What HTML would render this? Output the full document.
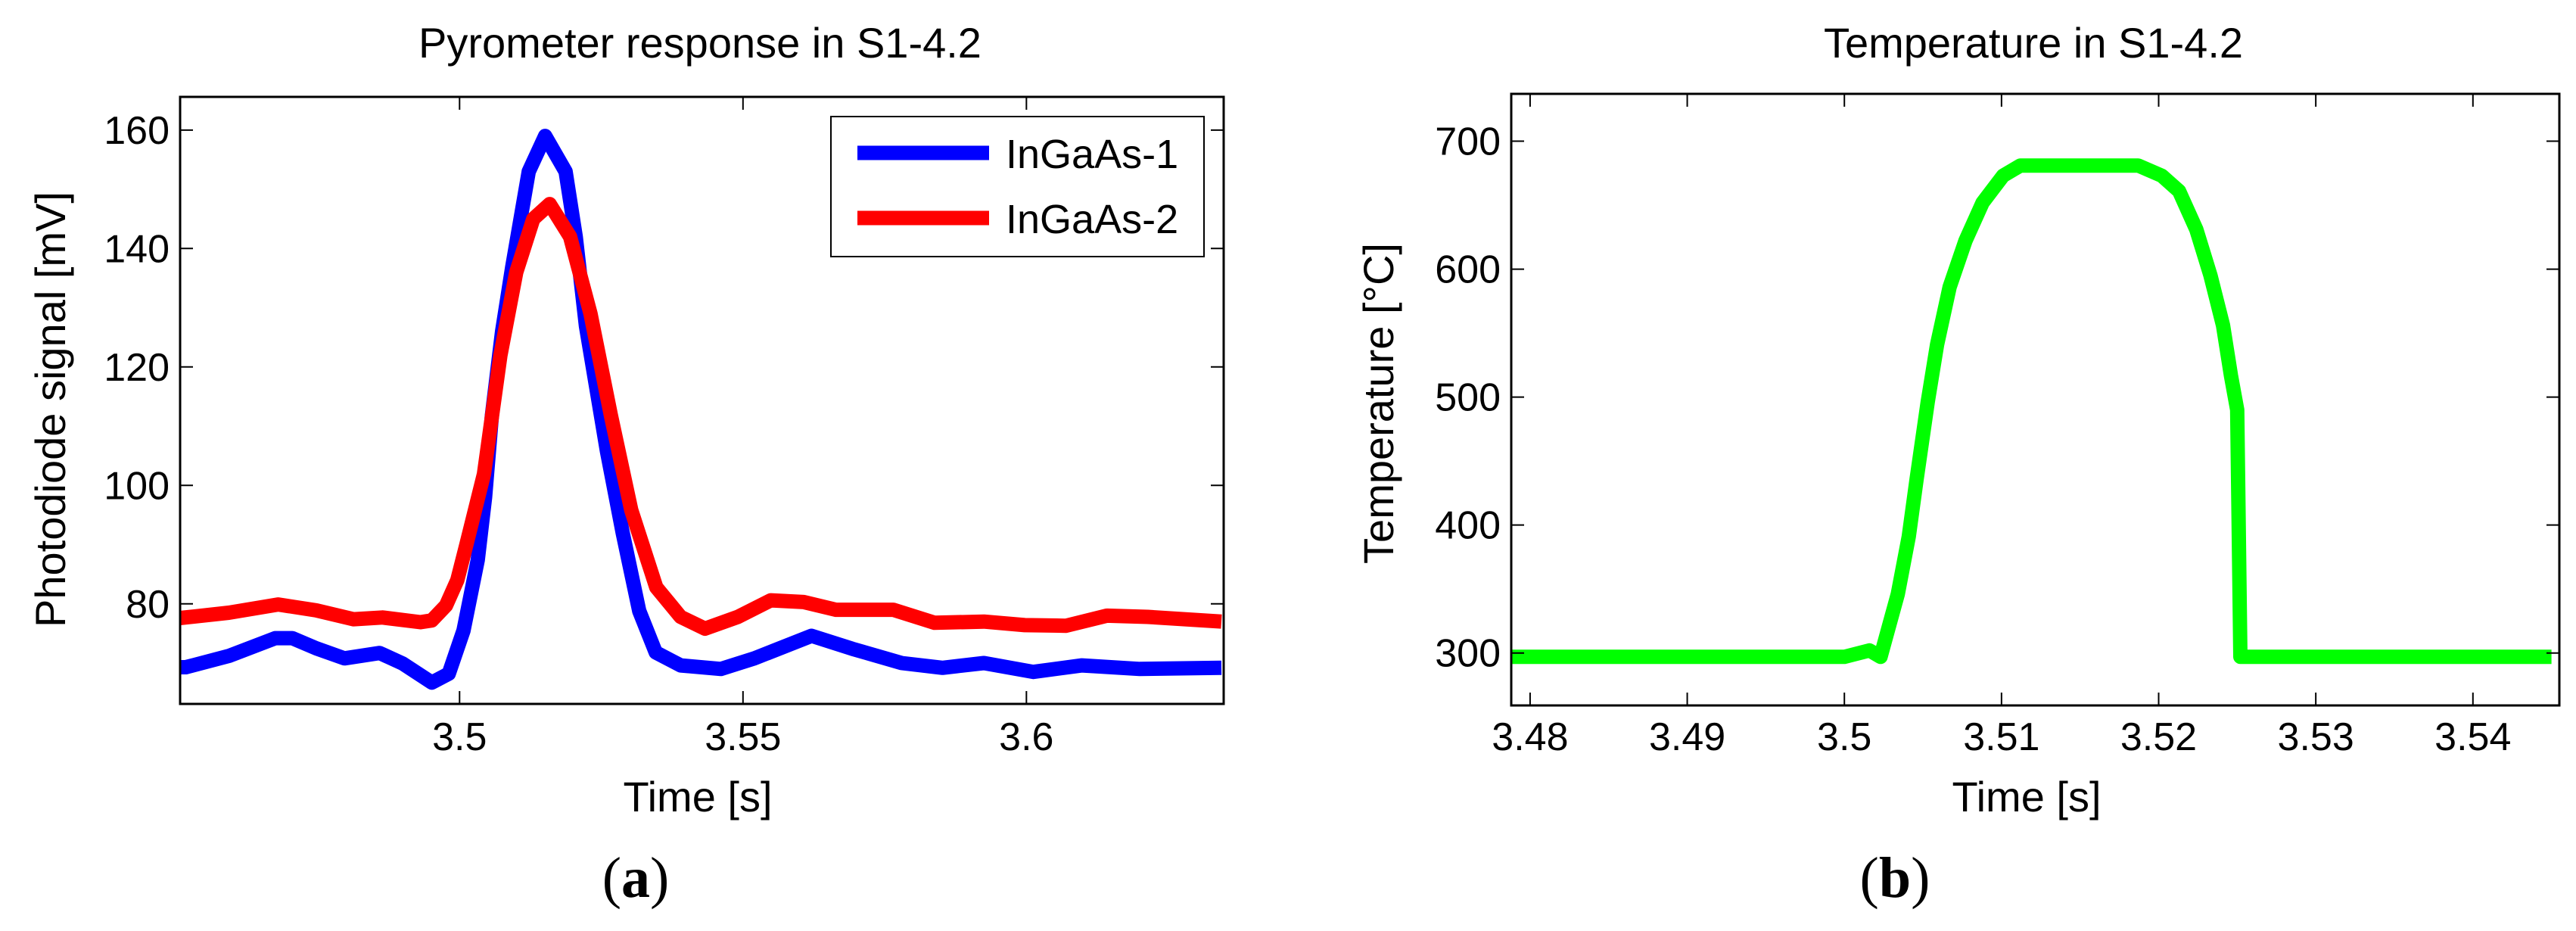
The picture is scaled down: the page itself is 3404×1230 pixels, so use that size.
<!DOCTYPE html>
<html><head><meta charset="utf-8"><style>
html,body{margin:0;padding:0;background:#fff;}
svg{display:block;}
text{font-family:"Liberation Sans",sans-serif;fill:#000;}
</style></head><body>
<svg id="fig" width="3404" height="1230" viewBox="0 0 3404 1230" xmlns="http://www.w3.org/2000/svg">
<g id="pa"></g>
<g id="pb"></g>
</svg>
<script>
// Panel (a) data
const aTimeBlue = [3.4507,3.4517,3.4593,3.4675,3.4705,3.4747,3.4797,3.4859,3.4900,3.4951,3.4981,3.5007,3.5032,3.5045,3.5057,3.5075,3.5093,3.5122,3.5151,3.5187,3.5205,3.5223,3.5260,3.5288,3.5317,3.5346,3.5390,3.5461,3.5520,3.5621,3.5693,3.5780,3.5852,3.5925,3.6012,3.6098,3.6200,3.6344];
const aValBlue  = [69.3,69.3,71.2,74.2,74.2,72.5,70.8,71.7,69.9,66.7,68.2,75.5,87.4,98,111.8,126,136.9,153,159,153,142,126.9,105.8,91.9,78.8,71.8,69.6,69.0,70.8,74.6,72.4,70.0,69.2,70.0,68.5,69.6,69.0,69.2];
const aTimeRed = [3.4507,3.4593,3.4680,3.4747,3.4813,3.4864,3.4931,3.4951,3.4976,3.4996,3.5012,3.5043,3.5072,3.5100,3.5130,3.5159,3.5195,3.5231,3.5267,3.5303,3.5347,3.5390,3.5433,3.5491,3.5549,3.5607,3.5664,3.5765,3.5838,3.5925,3.5997,3.6070,3.6142,3.6214,3.6344];
const aValRed  = [77.6,78.5,79.9,78.9,77.4,77.7,76.9,77.2,79.7,84.0,90.0,101.9,121.9,136,145,147.5,142,129,111.8,95.8,82.8,77.8,75.8,77.8,80.6,80.3,79.0,79.0,76.8,77.0,76.4,76.3,78.0,77.8,77.0];
const aXTicks = [3.5,3.55,3.6];
const aXTickLabels = ["3.5","3.55","3.6"];
const aYTicks = [80,100,120,140,160];
const aYTickLabels = ["80","100","120","140","160"];
const aLegendLabels = ["InGaAs-1","InGaAs-2"];
// Panel (b) data
const bTime = [3.4788,3.5000,3.5016,3.5023,3.5034,3.5041,3.5046,3.5053,3.5059,3.5067,3.5077,3.5088,3.5101,3.5112,3.5187,3.5202,3.5213,3.5224,3.5233,3.5241,3.5246,3.5250,3.5252,3.5450];
const bTemp = [297,297,302,297,346,391,436,496,541,586,622,652,673,681,681,673,661,631,595,556,517,490,297,297];
const bXTicks = [3.48,3.49,3.50,3.51,3.52,3.53,3.54];
const bXTickLabels = ["3.48","3.49","3.5","3.51","3.52","3.53","3.54"];
const bYTicks = [300,400,500,600,700];
const bYTickLabels = ["300","400","500","600","700"];

const NS="http://www.w3.org/2000/svg";
function mk(parent,tag,attrs,txt){const e=document.createElementNS(NS,tag);for(const k in attrs)e.setAttribute(k,attrs[k]);if(txt!==undefined)e.textContent=txt;parent.appendChild(e);return e;}

function drawPanel(g,cfg){
  const L=cfg.L,R=cfg.R,T=cfg.T,B=cfg.B;
  const sx=v=>L+(v-cfg.xmin)/(cfg.xmax-cfg.xmin)*(R-L);
  const sy=v=>B-(v-cfg.ymin)/(cfg.ymax-cfg.ymin)*(B-T);
  const t=mk(g,'text',{x:cfg.titleX,y:76,'font-size':56,'text-anchor':'middle'},cfg.title);
  
  
  cfg.series.forEach(s=>{
    const d=s.x.map((v,i)=>(i?'L':'M')+sx(v).toFixed(1)+' '+sy(s.y[i]).toFixed(1)).join(' ');
    const p=mk(g,'path',{d:d,fill:'none',stroke:s.color,'stroke-width':19,'stroke-linejoin':'round'});
    
    
  });
  const box=mk(g,'rect',{x:L,y:T,width:R-L,height:B-T,fill:'none',stroke:'#000','stroke-width':3});
  
  
  cfg.xt.forEach((v,i)=>{
    const x=sx(v);
    mk(g,'line',{x1:x,x2:x,y1:B,y2:B-17,stroke:'#000','stroke-width':2});
    mk(g,'line',{x1:x,x2:x,y1:T,y2:T+17,stroke:'#000','stroke-width':2});
    const lb=mk(g,'text',{x:x,y:991,'font-size':52,'text-anchor':'middle'},cfg.xtl[i]);
    
    
  });
  cfg.yt.forEach((v,i)=>{
    const y=sy(v);
    mk(g,'line',{x1:L,x2:L+17,y1:y,y2:y,stroke:'#000','stroke-width':2});
    mk(g,'line',{x1:R,x2:R-17,y1:y,y2:y,stroke:'#000','stroke-width':2});
    const lb=mk(g,'text',{x:L-14,y:y+18,'font-size':52,'text-anchor':'end'},cfg.ytl[i]);
    
    
  });
  const xl=mk(g,'text',{x:cfg.xlabX,y:1072,'font-size':56,'text-anchor':'middle'},'Time [s]');
  
  
  const yl=mk(g,'text',{x:0,y:0,'font-size':56,'text-anchor':'middle',transform:`translate(${cfg.ylabX},${cfg.ylabY}) rotate(-90)`},cfg.ylab);
  
  
  const pl=mk(g,'text',{x:cfg.panX,y:1185,'font-size':76,'text-anchor':'middle'},'');
  pl.style.fontFamily='"Liberation Serif",serif';
  pl.appendChild(document.createTextNode('('));
  mk(pl,'tspan',{'font-weight':'bold'},cfg.panLetter);
  pl.appendChild(document.createTextNode(')'));
  
  
  return {sx,sy};
}

const ga=document.getElementById('pa');
drawPanel(ga,{L:238,R:1617,T:128,B:930,xmin:3.4507,xmax:3.6348,ymin:63.1,ymax:165.6,
  title:'Pyrometer response in S1-4.2',titleX:925,
  series:[{x:aTimeBlue,y:aValBlue,color:'#0000ff',name:'series-ingaas-1'},{x:aTimeRed,y:aValRed,color:'#ff0000',name:'series-ingaas-2'}],
  xt:aXTicks,xtl:aXTickLabels,yt:aYTicks,ytl:aYTickLabels,xlabX:922,ylab:'Photodiode signal [mV]',ylabX:86,ylabY:541,panX:840,panLetter:'a'});
// legend
const lg=mk(ga,'g',{});


mk(lg,'rect',{x:1098,y:154,width:493,height:185,fill:'#fff',stroke:'#000','stroke-width':2});
const legColors=['#0000ff','#ff0000'];
const legY=[202,288];
aLegendLabels.forEach((lab,i)=>{
  const ln=mk(lg,'line',{x1:1133,x2:1307,y1:legY[i],y2:legY[i],stroke:legColors[i],'stroke-width':19});
  
  
  const tx=mk(lg,'text',{x:1329,y:legY[i]+20,'font-size':54},lab);
  
  
});

const gb=document.getElementById('pb');
drawPanel(gb,{L:1997,R:3382,T:124,B:932,xmin:3.4788,xmax:3.5455,ymin:259,ymax:737,
  title:'Temperature in S1-4.2',titleX:2687,
  series:[{x:bTime,y:bTemp,color:'#00ff00',name:'series-temperature'}],
  xt:bXTicks,xtl:bXTickLabels,yt:bYTicks,ytl:bYTickLabels,xlabX:2678,ylab:'Temperature [°C]',ylabX:1841,ylabY:533,panX:2504,panLetter:'b'});
</script>
</body></html>
